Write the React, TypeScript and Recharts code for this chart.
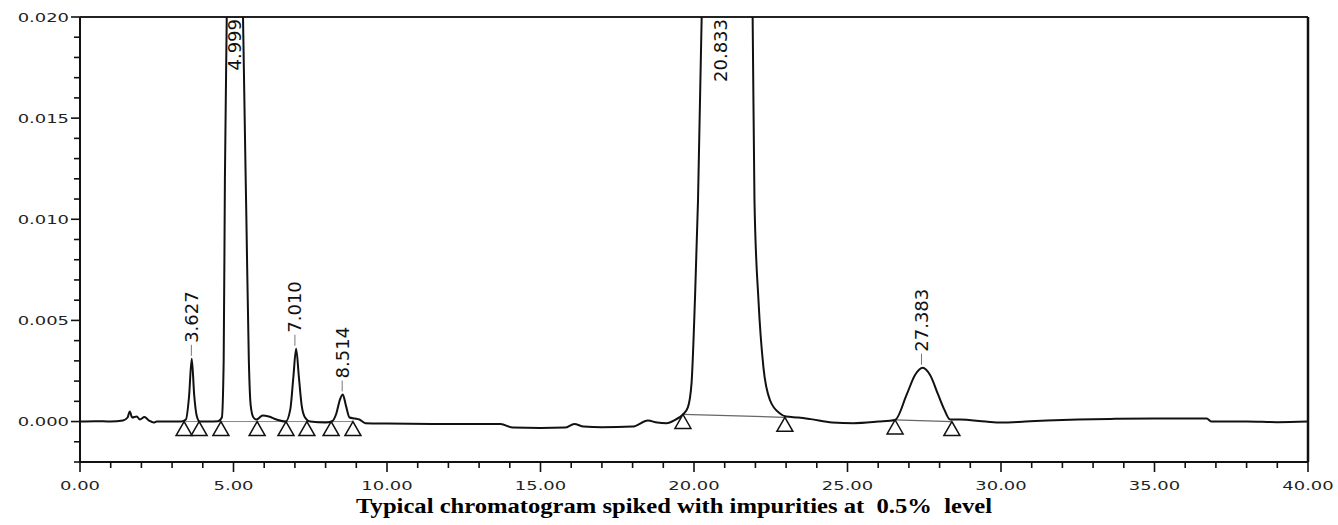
import React from 'react';
import {
  ComposedChart,
  Line,
  Scatter,
  XAxis,
  YAxis,
  ReferenceLine,
} from 'recharts';

// Detector trace (minutes, AU)
const traceTime = [
  0.0, 0.5, 1.0, 1.4, 1.55, 1.62, 1.7, 1.85, 1.95, 2.1, 2.25, 2.4, 2.5, 3.0, 3.3,
  3.45, 3.55, 3.64, 3.72, 3.8, 3.9, 4.2, 4.5, 4.62, 4.68, 4.72, 4.78, 4.85, 5.0,
  5.15, 5.31, 5.42, 5.5, 5.56, 5.65, 5.75, 5.95, 6.15, 6.4, 6.7, 6.85, 6.95, 7.04,
  7.13, 7.22, 7.33, 7.5, 8.0, 8.2, 8.35, 8.47, 8.56, 8.66, 8.78, 8.95, 9.1, 9.3,
  10.0, 12.0, 13.7, 14.1, 15.0, 15.8, 16.1, 16.4, 17.0, 18.0, 18.5, 18.8, 19.1,
  19.4, 19.64, 19.8, 19.92, 20.03, 20.13, 20.25, 20.5, 20.85, 21.4, 21.91, 21.97,
  22.1, 22.26, 22.48, 22.8, 23.0, 23.4, 23.8, 24.5, 25.2, 26.0, 26.55, 26.93,
  27.2, 27.45, 27.69, 27.95, 28.15, 28.34, 28.66, 29.5, 30.0, 30.8, 31.5, 32.5,
  33.55, 35.0, 36.7, 36.85, 38.0, 39.0, 40.0,
];
const traceSignal = [
  0.0, 0.00002, 0.0, 0.00005, 0.0002, 0.0005, 0.0002, 0.00025, 0.0001, 0.00022,
  0.00005, -0.00005, 0.0, 0.0, 0.0, 0.0001, 0.0012, 0.0031, 0.0013, 0.0003, 0.0,
  0.0, 0.00002, 0.0002, 0.003, 0.012, 0.02, 0.035, 0.05, 0.04, 0.02, 0.01, 0.003,
  0.0008, 0.0002, 0.0001, 0.0003, 0.00025, 0.0001, 0.0, 0.0006, 0.0022, 0.0036,
  0.0022, 0.0008, 0.0002, 0.0, -0.00005, 0.0, 0.0004, 0.0011, 0.00134, 0.0008,
  0.0002, 0.00015, 0.0001, -0.00008, -0.0001, -0.00012, -0.00012, -0.0003,
  -0.00032, -0.0003, -0.00012, -0.00025, -0.00028, -0.00025, 0.00005, -0.00005,
  -0.00008, 0.0001, 0.00035, 0.0007, 0.0019, 0.006, 0.0109, 0.02, 0.045, 0.06,
  0.05, 0.02, 0.0109, 0.006, 0.0027, 0.00104, 0.0004, 0.00025, 0.0002, 0.00012,
  -0.00005, -0.00008, 0.0, 0.00008, 0.00134, 0.0023, 0.00266, 0.0023, 0.00134,
  0.0006, 0.0001, 0.0001, 0.0, -0.00005, 0.0, 0.00005, 0.0001, 0.00013, 0.00015,
  0.00015, 0.0, 0.0, -0.00003, 0.0,
];

// Retention time labels
const peakPos = [3.627, 5.02, 7.0, 8.54, 20.85, 27.41];
const peakTop = [0.0031, 0.02, 0.0036, 0.00134, 0.02, 0.00266];
const peakNames = ['3.627', '4.999', '7.010', '8.514', '20.833', '27.383'];
const peakClipped = [false, true, false, false, true, false];

// Integration start/end markers
const markerTime = [3.39, 3.88, 4.59, 5.77, 6.71, 7.39, 8.18, 8.89, 19.64, 22.96, 26.55, 28.4];
const markerLevel = [0.0, 0.0, 0.0, 0.0, 0.0, 0.0, 0.0, 0.0, 0.00035, 0.00021, 0.00008, 0.0];

const xTicks = [
  0, 1, 2, 3, 4, 5, 6, 7, 8, 9, 10, 11, 12, 13, 14, 15, 16, 17, 18, 19, 20,
  21, 22, 23, 24, 25, 26, 27, 28, 29, 30, 31, 32, 33, 34, 35, 36, 37, 38, 39, 40,
];
const yTicks = [
  -0.002, -0.001, 0.0, 0.001, 0.002, 0.003, 0.004, 0.005, 0.006, 0.007, 0.008,
  0.009, 0.01, 0.011, 0.012, 0.013, 0.014, 0.015, 0.016, 0.017, 0.018, 0.019, 0.02,
];

const traceData = traceTime.map((t, i) => ({ t, v: traceSignal[i] }));
const peakData = peakPos.map((t, i) => ({ t, v: peakTop[i], name: peakNames[i], clipped: peakClipped[i] }));
const markerData = markerTime.map((t, i) => ({ t, v: markerLevel[i] }));

const AXIS_FONT = '"DejaVu Sans", sans-serif';

const YTick = (props: any) => {
  const { x, y, payload } = props;
  const val = payload.value;
  const major = Math.round(val * 1000) % 5 === 0 && val >= 0;
  const len = major ? 9 : 6;
  return (
    <g>
      <line x1={x - len} x2={x} y1={y} y2={y} stroke="#111" strokeWidth={1.6} />
      {major && (
        <g transform={`translate(${x - 11},${y}) scale(1.38,1)`}>
          <text x={0} y={0} textAnchor="end" dominantBaseline="central" fontFamily={AXIS_FONT} fontSize={13} fill="#222">
            {val.toFixed(3)}
          </text>
        </g>
      )}
    </g>
  );
};

const XTick = (props: any) => {
  const { x, y, payload } = props;
  const val = payload.value;
  const major = val % 5 === 0;
  const len = major ? 10 : 6;
  return (
    <g>
      <line x1={x} x2={x} y1={y} y2={y + len} stroke="#111" strokeWidth={1.6} />
      {major && (
        <g transform={`translate(${x},${y + 23}) scale(1.38,1)`}>
          <text x={0} y={0} textAnchor="middle" dominantBaseline="central" fontFamily={AXIS_FONT} fontSize={13} fill="#222">
            {val.toFixed(2)}
          </text>
        </g>
      )}
    </g>
  );
};

const PeakLabel = (props: any) => {
  const { cx, cy, payload } = props;
  if (payload.clipped) {
    return (
      <text
        transform={`translate(${cx},${cy + 2}) rotate(-90)`}
        textAnchor="end"
        dominantBaseline="central"
        fontFamily={AXIS_FONT}
        fontSize={18}
        fill="#111"
      >
        {payload.name}
      </text>
    );
  }
  return (
    <g>
      <line x1={cx} x2={cx} y1={cy - 3} y2={cy - 14} stroke="#777" strokeWidth={1} />
      <text
        transform={`translate(${cx},${cy - 16}) rotate(-90)`}
        textAnchor="start"
        dominantBaseline="central"
        fontFamily={AXIS_FONT}
        fontSize={18}
        fill="#111"
      >
        {payload.name}
      </text>
    </g>
  );
};

const Marker = (props: any) => {
  const { cx, cy } = props;
  return (
    <polygon
      points={`${cx},${cy} ${cx - 8},${cy + 14} ${cx + 8},${cy + 14}`}
      fill="#fff"
      stroke="#111"
      strokeWidth={1.5}
    />
  );
};

export default function App() {
  return (
    <div style={{ position: 'relative', width: 1338, height: 525, background: '#fff' }}>
      <style>{'body{margin:0;background:#fff}'}</style>
      <ComposedChart width={1338} height={525} margin={{ top: 17, right: 30, bottom: 0, left: 0 }}>
        <XAxis
          type="number"
          dataKey="t"
          domain={[0, 40]}
          ticks={xTicks}
          interval={0}
          height={63}
          tickSize={0}
          tickMargin={0}
          tickLine={false}
          tick={<XTick />}
          axisLine={{ stroke: '#111', strokeWidth: 2 }}
          allowDataOverflow
        />
        <YAxis
          type="number"
          dataKey="v"
          domain={[-0.002, 0.02]}
          ticks={yTicks}
          interval={0}
          width={80}
          tickSize={0}
          tickMargin={0}
          tickLine={false}
          tick={<YTick />}
          axisLine={{ stroke: '#111', strokeWidth: 2 }}
          allowDataOverflow
        />
        <ReferenceLine y={0.02} stroke="#222" strokeWidth={2} />
        <ReferenceLine x={40} stroke="#111" strokeWidth={2.5} />
        <ReferenceLine segment={[{ x: 19.64, y: 0.00035 }, { x: 22.96, y: 0.00021 }]} stroke="#666" strokeWidth={1.2} />
        <ReferenceLine segment={[{ x: 26.55, y: 0.00008 }, { x: 28.4, y: 0.0 }]} stroke="#666" strokeWidth={1.2} />
        <ReferenceLine segment={[{ x: 3.39, y: 0.0 }, { x: 8.89, y: 0.0 }]} stroke="#888" strokeWidth={1} />
        <Line
          data={traceData}
          dataKey="v"
          type="monotone"
          stroke="#111"
          strokeWidth={2}
          dot={false}
          isAnimationActive={false}
        />
        <Scatter data={markerData} dataKey="v" shape={<Marker />} isAnimationActive={false} />
        <Scatter data={peakData} dataKey="v" shape={<PeakLabel />} isAnimationActive={false} />
      </ComposedChart>
      <div
        style={{
          position: 'absolute',
          left: 674,
          top: 496,
          transform: 'translateX(-50%) scaleX(1.23)',
          whiteSpace: 'pre',
          fontFamily: '"Liberation Serif", "Times New Roman", serif',
          fontWeight: 'bold',
          fontSize: 20,
          lineHeight: '20px',
          color: '#000',
        }}
      >
        {'Typical chromatogram spiked with impurities at  0.5%  level'}
      </div>
    </div>
  );
}
